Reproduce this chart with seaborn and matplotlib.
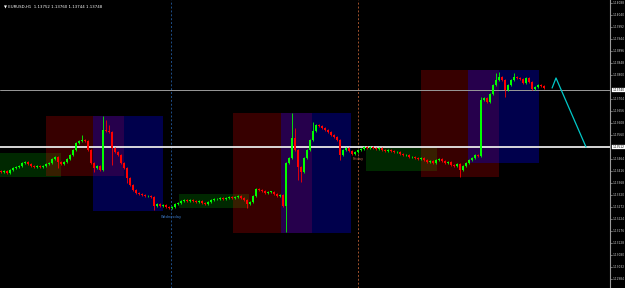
import numpy as np
import pandas as pd
import matplotlib
matplotlib.use("Agg")
import matplotlib.pyplot as plt
import matplotlib.transforms as mtransforms
from matplotlib.patches import Rectangle
import seaborn as sns

# ---------------- data ----------------
symbol_title = "\u25BC EURUSD,H1  1.13752 1.13760 1.13744 1.13748"

first_open = 1.13416
closes = [
    1.13412, 1.13416, 1.13408, 1.13420, 1.13428, 1.13432, 1.13436, 1.13448, 1.13452, 1.13444,
    1.13436, 1.13432, 1.13436, 1.13432, 1.13436, 1.13444, 1.13448, 1.13464, 1.13472, 1.13452,
    1.13444, 1.13452, 1.13464, 1.13480, 1.13500, 1.13528, 1.13536, 1.13540, 1.13536, 1.13500,
    1.13448, 1.13428, 1.13436, 1.13420, 1.13580, 1.13576, 1.13572, 1.13508, 1.13492, 1.13480,
    1.13448, 1.13428, 1.13388, 1.13360, 1.13340, 1.13328, 1.13324, 1.13320, 1.13316, 1.13316,
    1.13312, 1.13276, 1.13284, 1.13276, 1.13280, 1.13272, 1.13268, 1.13272, 1.13284, 1.13288,
    1.13296, 1.13300, 1.13296, 1.13300, 1.13296, 1.13292, 1.13296, 1.13288, 1.13284, 1.13292,
    1.13300, 1.13304, 1.13304, 1.13308, 1.13304, 1.13308, 1.13312, 1.13308, 1.13312, 1.13316,
    1.13308, 1.13300, 1.13284, 1.13292, 1.13316, 1.13344, 1.13340, 1.13336, 1.13328, 1.13332,
    1.13332, 1.13324, 1.13316, 1.13320, 1.13276, 1.13448, 1.13468, 1.13548, 1.13500, 1.13432,
    1.13412, 1.13468, 1.13500, 1.13540, 1.13576, 1.13600, 1.13596, 1.13588, 1.13580, 1.13572,
    1.13560, 1.13552, 1.13540, 1.13480, 1.13500, 1.13508, 1.13496, 1.13484, 1.13492, 1.13500,
    1.13504, 1.13512, 1.13508, 1.13512, 1.13508, 1.13504, 1.13508, 1.13500, 1.13496, 1.13500,
    1.13496, 1.13492, 1.13492, 1.13484, 1.13480, 1.13480, 1.13472, 1.13472, 1.13468, 1.13464,
    1.13468, 1.13460, 1.13452, 1.13456, 1.13448, 1.13460, 1.13464, 1.13456, 1.13448, 1.13452,
    1.13440, 1.13436, 1.13444, 1.13420, 1.13436, 1.13448, 1.13460, 1.13468, 1.13480, 1.13476,
    1.13700, 1.13708, 1.13692, 1.13724, 1.13760, 1.13780, 1.13792, 1.13780, 1.13740, 1.13760,
    1.13780, 1.13792, 1.13788, 1.13784, 1.13768, 1.13788, 1.13772, 1.13744, 1.13752, 1.13760,
    1.13756, 1.13748,
]
wick = 0.00004
high_override = {27: 1.13560, 34: 1.13636, 35: 1.13620, 36: 1.13600, 97: 1.13648,
                 98: 1.13588, 104: 1.13612, 160: 1.13712, 165: 1.13808, 166: 1.13812,
                 171: 1.13808}
low_override = {19: 1.13428, 31: 1.13412, 37: 1.13440, 42: 1.13368, 51: 1.13260,
                82: 1.13268, 95: 1.13172, 99: 1.13380, 100: 1.13372, 113: 1.13460,
                153: 1.13392, 168: 1.13712}

# session boxes: start bar, end bar, top, bottom, kind
box_start = [-0.5, 15.0, 30.7, 59.3, 77.3, 93.3, 121.7, 140.0, 155.7]
box_end = [20.0, 41.0, 54.0, 82.7, 103.7, 116.7, 145.3, 166.0, 179.3]
box_top = [1.13488, 1.13636, 1.13636, 1.13324, 1.13648, 1.13648, 1.13512, 1.13820, 1.13820]
box_bottom = [1.13392, 1.13396, 1.13256, 1.13268, 1.13168, 1.13168, 1.13416, 1.13392, 1.13448]
box_kind = ["asia", "london", "newyork", "asia", "london", "newyork", "asia", "london", "newyork"]

# day separators
sep_bar = [56.67, 119.0]
sep_label = ["Wednesday", "Friday"]
sep_label_price = [1.13232, 1.13464]

# horizontal levels
level_gray = 1.13740
level_white = 1.13512

# projection zigzag
proj_bar = [183.7, 185.0, 195.0]
proj_price = [1.13748, 1.13788, 1.13512]

# price axis
tick_prices = [1.14088, 1.14040, 1.13992, 1.13944, 1.13896, 1.13848, 1.13800, 1.13752,
               1.13704, 1.13656, 1.13608, 1.13560, 1.13512, 1.13464, 1.13416, 1.13368,
               1.13320, 1.13272, 1.13224, 1.13176, 1.13128, 1.13080, 1.13032, 1.12984]

# ---------------- figure ----------------
sns.set_theme(style="dark")
plt.rcParams["font.family"] = ["DejaVu Sans"]

fig = plt.figure(figsize=(6.25, 2.88), dpi=100, facecolor="black")
ax = fig.add_axes([0, 0, 610 / 625, 1])
ax.set_facecolor("black")
ax.set_xlim(-0.33, 203)
ax.set_ylim(1.12948, 1.14100)

# boxes
kind_style = {"asia": ("#00ff00", 0.16), "london": ("#ff0000", 0.22), "newyork": ("#0000ff", 0.30)}
order = ["asia", "london", "newyork"]
for kind in order:
    for s, e, t, b, k in zip(box_start, box_end, box_top, box_bottom, box_kind):
        if k != kind:
            continue
        col, a = kind_style[k]
        ax.add_patch(Rectangle((s, b), e - s, t - b, facecolor=col, alpha=a,
                               edgecolor="none", zorder=1))

# day separators
sep_colors = ["#1e4f8a", "#a0522d"]
label_colors = ["#3f7fd0", "#c0704a"]
for xb, lab, lp, c, lc in zip(sep_bar, sep_label, sep_label_price, sep_colors, label_colors):
    ax.axvline(xb, color=c, lw=0.7, ls=(0, (2, 2)), zorder=2)
    ax.text(xb, lp, lab, color=lc, fontsize=2.6, ha="center", va="center", zorder=6)

# levels
ax.axhline(level_gray, color="#9a9a9a", lw=0.7, zorder=3)
ax.axhline(level_white, color="#e8e8e8", lw=1.3, zorder=3)

# candles
df = pd.DataFrame({"close": closes})
df["open"] = [first_open] + closes[:-1]
df["bar"] = np.arange(len(df))
df["high"] = [high_override.get(i, max(o, c) + wick) for i, o, c in zip(df.bar, df.open, df.close)]
df["low"] = [low_override.get(i, min(o, c) - wick) for i, o, c in zip(df.bar, df.open, df.close)]
df["color"] = np.where(df.close >= df.open, "#00ff00", "#ff0000")
ax.vlines(df.bar, df.low, df.high, colors=df.color, lw=0.6, zorder=4)
body_h = np.maximum((df.close - df.open).abs(), 0.00002)
ax.bar(df.bar, body_h, bottom=np.minimum(df.open, df.close), width=0.72,
       color=df.color, linewidth=0, zorder=5)

# projection zigzag
proj = pd.DataFrame({"bar": proj_bar, "price": proj_price})
sns.lineplot(data=proj, x="bar", y="price", ax=ax, color="#00c8c8", lw=0.9,
             sort=False, estimator=None, zorder=6)

# axes styling
for sp in ["left", "top", "bottom"]:
    ax.spines[sp].set_visible(False)
ax.spines["right"].set_visible(True)
ax.spines["right"].set_color("#9a9a9a")
ax.spines["right"].set_linewidth(0.8)
ax.set_xticks([])
ax.set_yticks([])
ax.set_xlabel("")
ax.set_ylabel("")
ax.grid(False)

trans = mtransforms.blended_transform_factory(ax.transAxes, ax.transData)
for p in tick_prices:
    if abs(p - level_gray) < 0.00020 or abs(p - level_white) < 0.00020:
        continue
    ax.plot([1.0, 1.003], [p, p], color="#9a9a9a", lw=0.5, transform=trans, clip_on=False)
    ax.text(1.0035, p, f"{p:.5f}", color="#d0d0d0", fontsize=2.05, ha="left", va="center",
            transform=trans, clip_on=False)
for p in [level_gray, level_white]:
    ax.text(1.0035, p, f"{p:.5f}", color="black", fontsize=2.05, ha="left", va="center",
            transform=trans, clip_on=False,
            bbox=dict(boxstyle="square,pad=0.15", facecolor="white", edgecolor="white", lw=0.2))

ax.text(0.006, 0.985, symbol_title, color="white", fontsize=2.8, ha="left", va="top",
        transform=ax.transAxes)

fig.savefig("out.png", dpi=100, facecolor="black")
